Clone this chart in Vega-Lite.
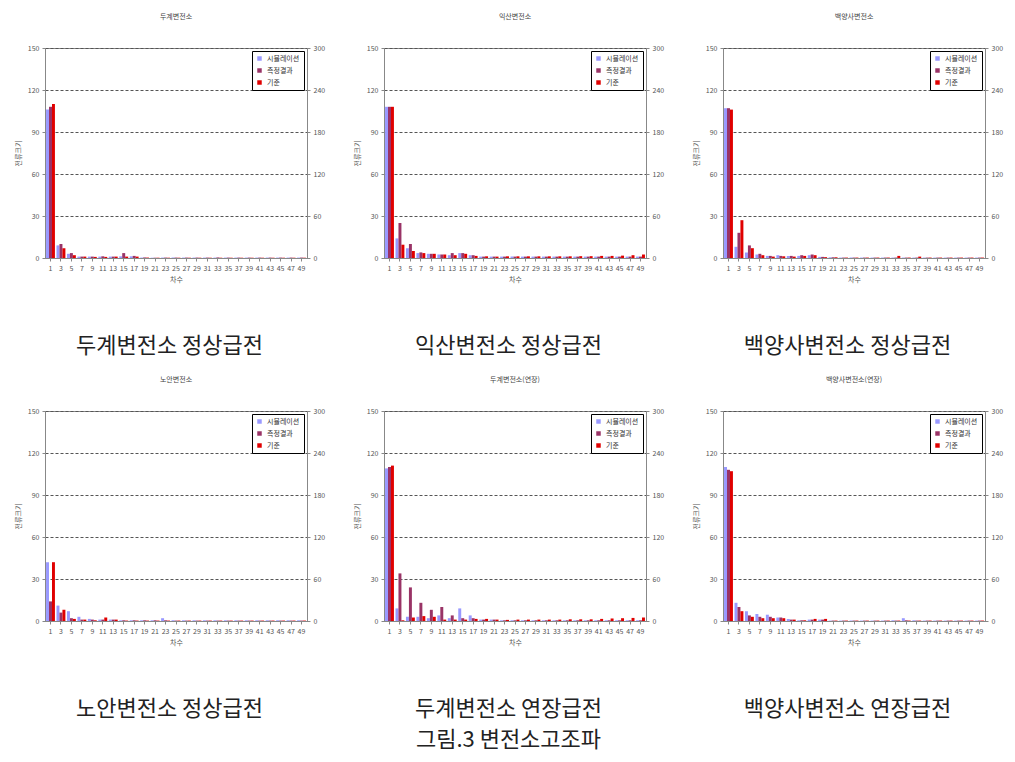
{
  "$schema": "https://vega.github.io/schema/vega-lite/v6.json",
  "background": "white",
  "padding": {"left": 13, "top": 12, "right": 0, "bottom": 0},
  "config": {
    "font": "Noto Sans CJK KR",
    "view": {"stroke": "#888", "strokeWidth": 1},
    "axis": {"labelFontSize": 7, "titleFontSize": 7, "labelColor": "#555", "titleColor": "#555", "tickColor": "#888", "domainColor": "#888", "tickSize": 3, "titleFontWeight": "normal", "labelPadding": 3},
    "title": {"fontWeight": "normal", "color": "#222"},
    "legend": {"orient": "top-right", "offset": 3, "strokeColor": "#000", "fillColor": "white", "padding": 4, "rowPadding": 4, "symbolType": "square", "symbolSize": 20, "labelFontSize": 7, "labelColor": "#333"},
    "concat": {"spacing": 26}
  },
  "datasets": {
    "p1": [
      {"o": 1, "a": 106, "b": 108, "c": 110}, {"o": 3, "a": 9, "b": 10, "c": 7}, {"o": 5, "a": 3, "b": 3.5, "c": 2},
      {"o": 7, "a": 1, "b": 1, "c": 1}, {"o": 9, "a": 1, "b": 1, "c": 0.8}, {"o": 11, "a": 1, "b": 1.2, "c": 0.8},
      {"o": 13, "a": 1, "b": 1, "c": 1}, {"o": 15, "a": 1.2, "b": 3.5, "c": 1}, {"o": 17, "a": 1.2, "b": 1.5, "c": 1},
      {"o": 19, "a": 0.3, "b": 0.4, "c": 0.3}, {"o": 21, "a": 0.2, "b": 0.2, "c": 0.2}, {"o": 23, "a": 0.3, "b": 0.3, "c": 0.2},
      {"o": 25, "a": 0.3, "b": 0.3, "c": 0.2}, {"o": 27, "a": 0.3, "b": 0.3, "c": 0.2}, {"o": 29, "a": 0.3, "b": 0.3, "c": 0.2},
      {"o": 31, "a": 0.3, "b": 0.3, "c": 0.2}, {"o": 33, "a": 0.3, "b": 0.4, "c": 0.2}, {"o": 35, "a": 0.3, "b": 0.3, "c": 0.2},
      {"o": 37, "a": 0.3, "b": 0.3, "c": 0.2}, {"o": 39, "a": 0.3, "b": 0.3, "c": 0.2}, {"o": 41, "a": 0.3, "b": 0.3, "c": 0.2},
      {"o": 43, "a": 0.3, "b": 0.3, "c": 0.2}, {"o": 45, "a": 0.3, "b": 0.3, "c": 0.2}, {"o": 47, "a": 0.3, "b": 0.3, "c": 0.2},
      {"o": 49, "a": 0.3, "b": 0.3, "c": 0.2}
    ],
    "p2": [
      {"o": 1, "a": 108, "b": 108, "c": 108}, {"o": 3, "a": 14, "b": 25, "c": 9.5}, {"o": 5, "a": 7, "b": 10, "c": 5},
      {"o": 7, "a": 3.5, "b": 4, "c": 3.5}, {"o": 9, "a": 3, "b": 3, "c": 3}, {"o": 11, "a": 2.5, "b": 2.5, "c": 2.5},
      {"o": 13, "a": 2, "b": 3.5, "c": 2}, {"o": 15, "a": 3.5, "b": 3.5, "c": 3}, {"o": 17, "a": 2, "b": 2, "c": 1.5},
      {"o": 19, "a": 1, "b": 1, "c": 1.2}, {"o": 21, "a": 1, "b": 1, "c": 1}, {"o": 23, "a": 1, "b": 1, "c": 1.2},
      {"o": 25, "a": 1, "b": 1, "c": 1.2}, {"o": 27, "a": 1, "b": 1, "c": 1.2}, {"o": 29, "a": 1, "b": 1, "c": 1.2},
      {"o": 31, "a": 1, "b": 1, "c": 1.2}, {"o": 33, "a": 1, "b": 1, "c": 1.2}, {"o": 35, "a": 1, "b": 1, "c": 1.2},
      {"o": 37, "a": 1, "b": 1, "c": 1.3}, {"o": 39, "a": 1, "b": 1, "c": 1.3}, {"o": 41, "a": 1, "b": 1, "c": 1.5},
      {"o": 43, "a": 1, "b": 1, "c": 1.5}, {"o": 45, "a": 1, "b": 1, "c": 1.7}, {"o": 47, "a": 1, "b": 1, "c": 2},
      {"o": 49, "a": 1, "b": 1, "c": 2.5}
    ],
    "p3": [
      {"o": 1, "a": 107, "b": 107, "c": 106}, {"o": 3, "a": 8, "b": 18, "c": 27}, {"o": 5, "a": 4, "b": 9, "c": 7},
      {"o": 7, "a": 2.5, "b": 3, "c": 2}, {"o": 9, "a": 1.5, "b": 1.5, "c": 1}, {"o": 11, "a": 2, "b": 1.5, "c": 1.2},
      {"o": 13, "a": 1.5, "b": 1.5, "c": 1}, {"o": 15, "a": 1.5, "b": 2, "c": 1.5}, {"o": 17, "a": 2, "b": 2.5, "c": 2},
      {"o": 19, "a": 0.8, "b": 0.8, "c": 0.6}, {"o": 21, "a": 0.5, "b": 0.5, "c": 0.5}, {"o": 23, "a": 0.3, "b": 0.3, "c": 0.3},
      {"o": 25, "a": 0.3, "b": 0.3, "c": 0.3}, {"o": 27, "a": 0.3, "b": 0.3, "c": 0.3}, {"o": 29, "a": 0.3, "b": 0.3, "c": 0.3},
      {"o": 31, "a": 0.3, "b": 0.3, "c": 0.3}, {"o": 33, "a": 0.3, "b": 0.3, "c": 1.5}, {"o": 35, "a": 0.3, "b": 0.3, "c": 0.3},
      {"o": 37, "a": 0.3, "b": 0.3, "c": 1}, {"o": 39, "a": 0.3, "b": 0.3, "c": 0.3}, {"o": 41, "a": 0.3, "b": 0.3, "c": 0.3},
      {"o": 43, "a": 0.3, "b": 0.3, "c": 0.3}, {"o": 45, "a": 0.3, "b": 0.3, "c": 0.3}, {"o": 47, "a": 0.3, "b": 0.3, "c": 0.3},
      {"o": 49, "a": 0.3, "b": 0.3, "c": 0.3}
    ],
    "p4": [
      {"o": 1, "a": 42, "b": 14, "c": 42}, {"o": 3, "a": 11, "b": 6, "c": 8}, {"o": 5, "a": 7, "b": 2, "c": 1.5},
      {"o": 7, "a": 3, "b": 1, "c": 1}, {"o": 9, "a": 1.5, "b": 1, "c": 0.5}, {"o": 11, "a": 1, "b": 1, "c": 2.5},
      {"o": 13, "a": 1, "b": 1, "c": 1}, {"o": 15, "a": 0.5, "b": 0.5, "c": 0.3}, {"o": 17, "a": 0.5, "b": 0.5, "c": 0.3},
      {"o": 19, "a": 0.5, "b": 0.5, "c": 0.3}, {"o": 21, "a": 0.5, "b": 0.5, "c": 0.3}, {"o": 23, "a": 2, "b": 0.5, "c": 0.3},
      {"o": 25, "a": 0.5, "b": 0.3, "c": 0.3}, {"o": 27, "a": 0.5, "b": 0.3, "c": 0.3}, {"o": 29, "a": 0.5, "b": 0.3, "c": 0.3},
      {"o": 31, "a": 0.5, "b": 0.3, "c": 0.3}, {"o": 33, "a": 0.5, "b": 0.3, "c": 0.3}, {"o": 35, "a": 0.5, "b": 0.3, "c": 0.3},
      {"o": 37, "a": 0.5, "b": 0.3, "c": 0.3}, {"o": 39, "a": 0.5, "b": 0.3, "c": 0.3}, {"o": 41, "a": 0.5, "b": 0.3, "c": 0.3},
      {"o": 43, "a": 0.5, "b": 0.3, "c": 0.3}, {"o": 45, "a": 0.5, "b": 0.3, "c": 0.3}, {"o": 47, "a": 0.5, "b": 0.3, "c": 0.3},
      {"o": 49, "a": 0.5, "b": 0.3, "c": 0.3}
    ],
    "p5": [
      {"o": 1, "a": 109, "b": 110, "c": 111}, {"o": 3, "a": 9, "b": 34, "c": 0.5}, {"o": 5, "a": 3, "b": 24, "c": 2.5},
      {"o": 7, "a": 3, "b": 13, "c": 3.5}, {"o": 9, "a": 2, "b": 8, "c": 3}, {"o": 11, "a": 4, "b": 10, "c": 1},
      {"o": 13, "a": 2, "b": 4, "c": 1}, {"o": 15, "a": 9, "b": 2, "c": 1}, {"o": 17, "a": 4, "b": 2, "c": 1.5},
      {"o": 19, "a": 1, "b": 1, "c": 1.5}, {"o": 21, "a": 1, "b": 1, "c": 1}, {"o": 23, "a": 0.5, "b": 0.5, "c": 0.8},
      {"o": 25, "a": 0.5, "b": 0.5, "c": 1}, {"o": 27, "a": 0.5, "b": 0.5, "c": 1}, {"o": 29, "a": 0.5, "b": 0.5, "c": 1},
      {"o": 31, "a": 0.5, "b": 0.5, "c": 1}, {"o": 33, "a": 0.5, "b": 0.5, "c": 1}, {"o": 35, "a": 0.5, "b": 0.5, "c": 1.2},
      {"o": 37, "a": 0.5, "b": 0.5, "c": 1.2}, {"o": 39, "a": 0.5, "b": 0.5, "c": 1.2}, {"o": 41, "a": 0.5, "b": 0.5, "c": 1.5},
      {"o": 43, "a": 0.5, "b": 0.5, "c": 1.8}, {"o": 45, "a": 0.5, "b": 0.5, "c": 2}, {"o": 47, "a": 0.5, "b": 0.5, "c": 2.2},
      {"o": 49, "a": 0.5, "b": 0.5, "c": 2.5}
    ],
    "p6": [
      {"o": 1, "a": 110, "b": 108, "c": 107}, {"o": 3, "a": 13, "b": 10, "c": 7}, {"o": 5, "a": 7, "b": 4, "c": 3},
      {"o": 7, "a": 5, "b": 3, "c": 2}, {"o": 9, "a": 4.5, "b": 3, "c": 2}, {"o": 11, "a": 2.5, "b": 2.5, "c": 2},
      {"o": 13, "a": 1.5, "b": 1, "c": 1}, {"o": 15, "a": 0.5, "b": 0.5, "c": 0.5}, {"o": 17, "a": 1, "b": 1, "c": 1.5},
      {"o": 19, "a": 1, "b": 1, "c": 1.5}, {"o": 21, "a": 0.3, "b": 0.3, "c": 0.3}, {"o": 23, "a": 0.3, "b": 0.3, "c": 0.3},
      {"o": 25, "a": 0.3, "b": 0.3, "c": 0.3}, {"o": 27, "a": 0.3, "b": 0.3, "c": 0.3}, {"o": 29, "a": 0.3, "b": 0.3, "c": 0.3},
      {"o": 31, "a": 0.3, "b": 0.3, "c": 0.3}, {"o": 33, "a": 0.5, "b": 0.3, "c": 0.3}, {"o": 35, "a": 2, "b": 0.5, "c": 0.3},
      {"o": 37, "a": 0.5, "b": 0.3, "c": 0.3}, {"o": 39, "a": 0.3, "b": 0.3, "c": 0.3}, {"o": 41, "a": 0.3, "b": 0.3, "c": 0.3},
      {"o": 43, "a": 0.3, "b": 0.3, "c": 0.3}, {"o": 45, "a": 0.3, "b": 0.3, "c": 0.3}, {"o": 47, "a": 0.3, "b": 0.3, "c": 0.3},
      {"o": 49, "a": 0.3, "b": 0.3, "c": 0.3}
    ]
  },
  "title": {"text": "그림.3 변전소고조파", "orient": "bottom", "anchor": "middle", "fontSize": 22, "offset": 10},
  "resolve": {"scale": {"color": "independent"}, "legend": {"color": "independent"}},
  "spacing": 18,
  "vconcat": [
    {
      "resolve": {"scale": {"color": "independent"}, "legend": {"color": "independent"}},
      "hconcat": [
        {"title": {"text": "두계변전소 정상급전", "orient": "bottom", "anchor": "middle", "fontSize": 22, "offset": 53},
         "resolve": {"scale": {"color": "independent"}, "legend": {"color": "independent"}},
         "vconcat": [{
          "title": {"text": "두계변전소", "fontSize": 7, "color": "#444", "offset": 24},
          "data": {"name": "p1"}, "transform": [{"fold": ["a", "b", "c"], "as": ["s", "v"]}],
          "width": 262, "height": 210,
          "layer": [
            {"mark": {"type": "bar"}, "encoding": {
              "x": {"field": "o", "type": "ordinal", "title": "차수", "scale": {"paddingInner": 0.15, "paddingOuter": 0.1}, "axis": {"labelAngle": 0, "labelOverlap": false, "grid": false}},
              "xOffset": {"field": "s", "sort": ["a", "b", "c"]},
              "y": {"field": "v", "type": "quantitative", "scale": {"domain": [0, 150]}, "title": "전류크기", "axis": {"values": [0, 30, 60, 90, 120, 150], "gridDash": [3, 2], "gridColor": "#555", "titlePadding": 6}},
              "color": {"field": "s", "type": "nominal", "scale": {"domain": ["a", "b", "c"], "range": ["#9999ff", "#993366", "#e00000"]}, "legend": {"title": null, "labelExpr": "datum.value == 'a' ? '시뮬레이션' : datum.value == 'b' ? '측정결과' : '기준'"}}
            }},
            {"mark": {"type": "rule", "opacity": 0}, "encoding": {"y": {"datum": 0, "type": "quantitative", "scale": {"domain": [0, 300]}, "title": "왜형률", "axis": {"orient": "right", "values": [0, 60, 120, 180, 240, 300], "grid": false, "titlePadding": 6}}}}
          ],
          "resolve": {"scale": {"y": "independent"}}
        }]},
        {"title": {"text": "익산변전소 정상급전", "orient": "bottom", "anchor": "middle", "fontSize": 22, "offset": 53},
         "resolve": {"scale": {"color": "independent"}, "legend": {"color": "independent"}},
         "vconcat": [{
          "title": {"text": "익산변전소", "fontSize": 7, "color": "#444", "offset": 24},
          "data": {"name": "p2"}, "transform": [{"fold": ["a", "b", "c"], "as": ["s", "v"]}],
          "width": 262, "height": 210,
          "layer": [
            {"mark": {"type": "bar"}, "encoding": {
              "x": {"field": "o", "type": "ordinal", "title": "차수", "scale": {"paddingInner": 0.15, "paddingOuter": 0.1}, "axis": {"labelAngle": 0, "labelOverlap": false, "grid": false}},
              "xOffset": {"field": "s", "sort": ["a", "b", "c"]},
              "y": {"field": "v", "type": "quantitative", "scale": {"domain": [0, 150]}, "title": "전류크기", "axis": {"values": [0, 30, 60, 90, 120, 150], "gridDash": [3, 2], "gridColor": "#555", "titlePadding": 6}},
              "color": {"field": "s", "type": "nominal", "scale": {"domain": ["a", "b", "c"], "range": ["#9999ff", "#993366", "#e00000"]}, "legend": {"title": null, "labelExpr": "datum.value == 'a' ? '시뮬레이션' : datum.value == 'b' ? '측정결과' : '기준'"}}
            }},
            {"mark": {"type": "rule", "opacity": 0}, "encoding": {"y": {"datum": 0, "type": "quantitative", "scale": {"domain": [0, 300]}, "title": "왜형률", "axis": {"orient": "right", "values": [0, 60, 120, 180, 240, 300], "grid": false, "titlePadding": 6}}}}
          ],
          "resolve": {"scale": {"y": "independent"}}
        }]},
        {"title": {"text": "백양사변전소 정상급전", "orient": "bottom", "anchor": "middle", "fontSize": 22, "offset": 53},
         "resolve": {"scale": {"color": "independent"}, "legend": {"color": "independent"}},
         "vconcat": [{
          "title": {"text": "백양사변전소", "fontSize": 7, "color": "#444", "offset": 24},
          "data": {"name": "p3"}, "transform": [{"fold": ["a", "b", "c"], "as": ["s", "v"]}],
          "width": 262, "height": 210,
          "layer": [
            {"mark": {"type": "bar"}, "encoding": {
              "x": {"field": "o", "type": "ordinal", "title": "차수", "scale": {"paddingInner": 0.15, "paddingOuter": 0.1}, "axis": {"labelAngle": 0, "labelOverlap": false, "grid": false}},
              "xOffset": {"field": "s", "sort": ["a", "b", "c"]},
              "y": {"field": "v", "type": "quantitative", "scale": {"domain": [0, 150]}, "title": "전류크기", "axis": {"values": [0, 30, 60, 90, 120, 150], "gridDash": [3, 2], "gridColor": "#555", "titlePadding": 6}},
              "color": {"field": "s", "type": "nominal", "scale": {"domain": ["a", "b", "c"], "range": ["#9999ff", "#993366", "#e00000"]}, "legend": {"title": null, "labelExpr": "datum.value == 'a' ? '시뮬레이션' : datum.value == 'b' ? '측정결과' : '기준'"}}
            }},
            {"mark": {"type": "rule", "opacity": 0}, "encoding": {"y": {"datum": 0, "type": "quantitative", "scale": {"domain": [0, 300]}, "title": "왜형률", "axis": {"orient": "right", "values": [0, 60, 120, 180, 240, 300], "grid": false, "titlePadding": 6}}}}
          ],
          "resolve": {"scale": {"y": "independent"}}
        }]}
      ]
    },
    {
      "resolve": {"scale": {"color": "independent"}, "legend": {"color": "independent"}},
      "hconcat": [
        {"title": {"text": "노안변전소 정상급전", "orient": "bottom", "anchor": "middle", "fontSize": 22, "offset": 53},
         "resolve": {"scale": {"color": "independent"}, "legend": {"color": "independent"}},
         "vconcat": [{
          "title": {"text": "노안변전소", "fontSize": 7, "color": "#444", "offset": 24},
          "data": {"name": "p4"}, "transform": [{"fold": ["a", "b", "c"], "as": ["s", "v"]}],
          "width": 262, "height": 210,
          "layer": [
            {"mark": {"type": "bar"}, "encoding": {
              "x": {"field": "o", "type": "ordinal", "title": "차수", "scale": {"paddingInner": 0.15, "paddingOuter": 0.1}, "axis": {"labelAngle": 0, "labelOverlap": false, "grid": false}},
              "xOffset": {"field": "s", "sort": ["a", "b", "c"]},
              "y": {"field": "v", "type": "quantitative", "scale": {"domain": [0, 150]}, "title": "전류크기", "axis": {"values": [0, 30, 60, 90, 120, 150], "gridDash": [3, 2], "gridColor": "#555", "titlePadding": 6}},
              "color": {"field": "s", "type": "nominal", "scale": {"domain": ["a", "b", "c"], "range": ["#9999ff", "#993366", "#e00000"]}, "legend": {"title": null, "labelExpr": "datum.value == 'a' ? '시뮬레이션' : datum.value == 'b' ? '측정결과' : '기준'"}}
            }},
            {"mark": {"type": "rule", "opacity": 0}, "encoding": {"y": {"datum": 0, "type": "quantitative", "scale": {"domain": [0, 300]}, "title": "왜형률", "axis": {"orient": "right", "values": [0, 60, 120, 180, 240, 300], "grid": false, "titlePadding": 6}}}}
          ],
          "resolve": {"scale": {"y": "independent"}}
        }]},
        {"title": {"text": "두계변전소 연장급전", "orient": "bottom", "anchor": "middle", "fontSize": 22, "offset": 53},
         "resolve": {"scale": {"color": "independent"}, "legend": {"color": "independent"}},
         "vconcat": [{
          "title": {"text": "두계변전소(연장)", "fontSize": 7, "color": "#444", "offset": 24},
          "data": {"name": "p5"}, "transform": [{"fold": ["a", "b", "c"], "as": ["s", "v"]}],
          "width": 262, "height": 210,
          "layer": [
            {"mark": {"type": "bar"}, "encoding": {
              "x": {"field": "o", "type": "ordinal", "title": "차수", "scale": {"paddingInner": 0.15, "paddingOuter": 0.1}, "axis": {"labelAngle": 0, "labelOverlap": false, "grid": false}},
              "xOffset": {"field": "s", "sort": ["a", "b", "c"]},
              "y": {"field": "v", "type": "quantitative", "scale": {"domain": [0, 150]}, "title": "전류크기", "axis": {"values": [0, 30, 60, 90, 120, 150], "gridDash": [3, 2], "gridColor": "#555", "titlePadding": 6}},
              "color": {"field": "s", "type": "nominal", "scale": {"domain": ["a", "b", "c"], "range": ["#9999ff", "#993366", "#e00000"]}, "legend": {"title": null, "labelExpr": "datum.value == 'a' ? '시뮬레이션' : datum.value == 'b' ? '측정결과' : '기준'"}}
            }},
            {"mark": {"type": "rule", "opacity": 0}, "encoding": {"y": {"datum": 0, "type": "quantitative", "scale": {"domain": [0, 300]}, "title": "왜형률", "axis": {"orient": "right", "values": [0, 60, 120, 180, 240, 300], "grid": false, "titlePadding": 6}}}}
          ],
          "resolve": {"scale": {"y": "independent"}}
        }]},
        {"title": {"text": "백양사변전소 연장급전", "orient": "bottom", "anchor": "middle", "fontSize": 22, "offset": 53},
         "resolve": {"scale": {"color": "independent"}, "legend": {"color": "independent"}},
         "vconcat": [{
          "title": {"text": "백양사변전소(연장)", "fontSize": 7, "color": "#444", "offset": 24},
          "data": {"name": "p6"}, "transform": [{"fold": ["a", "b", "c"], "as": ["s", "v"]}],
          "width": 262, "height": 210,
          "layer": [
            {"mark": {"type": "bar"}, "encoding": {
              "x": {"field": "o", "type": "ordinal", "title": "차수", "scale": {"paddingInner": 0.15, "paddingOuter": 0.1}, "axis": {"labelAngle": 0, "labelOverlap": false, "grid": false}},
              "xOffset": {"field": "s", "sort": ["a", "b", "c"]},
              "y": {"field": "v", "type": "quantitative", "scale": {"domain": [0, 150]}, "title": "전류크기", "axis": {"values": [0, 30, 60, 90, 120, 150], "gridDash": [3, 2], "gridColor": "#555", "titlePadding": 6}},
              "color": {"field": "s", "type": "nominal", "scale": {"domain": ["a", "b", "c"], "range": ["#9999ff", "#993366", "#e00000"]}, "legend": {"title": null, "labelExpr": "datum.value == 'a' ? '시뮬레이션' : datum.value == 'b' ? '측정결과' : '기준'"}}
            }},
            {"mark": {"type": "rule", "opacity": 0}, "encoding": {"y": {"datum": 0, "type": "quantitative", "scale": {"domain": [0, 300]}, "title": "왜형률", "axis": {"orient": "right", "values": [0, 60, 120, 180, 240, 300], "grid": false, "titlePadding": 6}}}}
          ],
          "resolve": {"scale": {"y": "independent"}}
        }]}
      ]
    }
  ]
}
